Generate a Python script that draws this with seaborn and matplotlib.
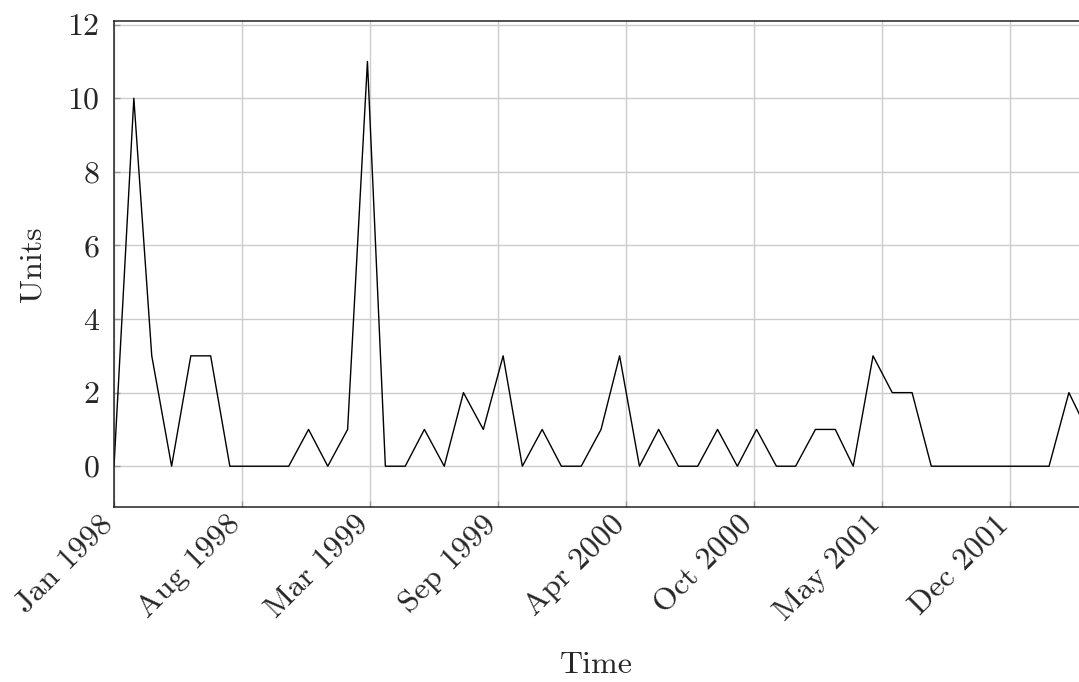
import pandas as pd
import matplotlib
matplotlib.use("Agg")
import matplotlib.pyplot as plt
import matplotlib.dates as mdates
from matplotlib.transforms import ScaledTranslation
import seaborn as sns

# monthly units, Jan 1998 onwards
months = pd.date_range("1998-01-01", periods=51, freq="MS")
units = [0, 10, 3, 0, 3, 3, 0, 0, 0, 0, 1, 0, 1, 11, 0, 0, 1, 0, 2, 1,
         3, 0, 1, 0, 0, 1, 3, 0, 1, 0, 0, 1, 0, 1, 0, 0, 1, 1, 0, 3,
         2, 2, 0, 0, 0, 0, 0, 0, 0, 2, 1]

tick_labels = ["Jan 1998", "Aug 1998", "Mar 1999", "Sep 1999",
               "Apr 2000", "Oct 2000", "May 2001", "Dec 2001"]
y_ticks = [0, 2, 4, 6, 8, 10, 12]

df = pd.DataFrame({"month": months, "units": units})

sns.set_theme(style="whitegrid")
plt.rcParams["font.family"] = ["cmr10", "DejaVu Serif"]
plt.rcParams["axes.formatter.use_mathtext"] = True
plt.rcParams["mathtext.fontset"] = "cm"

fig = plt.figure(figsize=(10.79, 6.82), dpi=100)
ax = fig.add_axes([114 / 1079, 1 - 506.7 / 682, 1 - 114 / 1079, (506.7 - 21) / 682])

sns.lineplot(data=df, x="month", y="units", color="black", linewidth=1.0, ax=ax)

start = pd.Timestamp("1998-01-01")
tick_pos = [mdates.date2num(start + pd.Timedelta(days=200 * k)) for k in range(len(tick_labels))]
ax.set_xticks(tick_pos)
ax.set_xticklabels(tick_labels, rotation=45, ha="right", va="center",
                   rotation_mode="anchor", fontsize=23)
ax.set_xlim(mdates.date2num(start), mdates.date2num(start) + 1507.8)

ax.set_yticks(y_ticks)
ax.set_yticklabels([str(v) for v in y_ticks], fontsize=23)
ax.set_ylim(-1.1, 12.1)

ax.grid(True, color="#cccccc", linewidth=1.0)
ax.tick_params(axis="both", direction="in", length=4.5, width=1.0,
               color="#999999", bottom=True, left=True)
ax.tick_params(axis="y", pad=10.5)
ax.tick_params(axis="x", pad=6)

# nudge rotated labels down-left a little
shift = ScaledTranslation(-6 / 100, -5 / 100, fig.dpi_scale_trans)
for lab in ax.get_xticklabels():
    lab.set_transform(lab.get_transform() + shift)

for side in ["left", "bottom", "top"]:
    ax.spines[side].set_color("#222222")
    ax.spines[side].set_linewidth(1.1)
ax.spines["right"].set_visible(False)

ax.set_xlabel("Time", fontsize=23, labelpad=18)
ax.set_ylabel("Units", fontsize=23, labelpad=15)

fig.savefig("out.png", dpi=100)
